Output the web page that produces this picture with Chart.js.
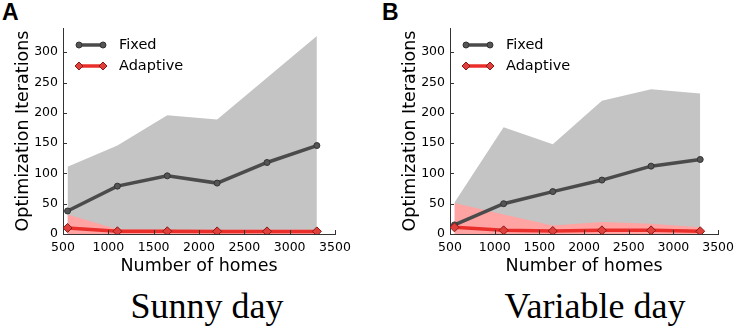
<!DOCTYPE html>
<html>
<head>
<meta charset="utf-8">
<script src="https://cdn.jsdelivr.net/npm/chart.js@4.4.1/dist/chart.umd.min.js"></script>
<style>
  body { margin: 0; background: #fff; width: 740px; height: 328px; position: relative; overflow: hidden; }
  canvas { position: absolute; top: 0; }
  #chartA { left: 0; }
  #chartB { left: 387px; }
  .letter { position: absolute; font-family: 'Liberation Sans', Arial, sans-serif; font-weight: bold; font-size: 23px; line-height: 1; }
  .caption { position: absolute; top: 285px; font-family: 'Liberation Serif', 'Times New Roman', serif; font-size: 36px; line-height: 1.2; text-align: center; width: 300px; }
</style>
</head>
<body>
<div class="letter" style="left:2px; top:1px;">A</div>
<div class="letter" style="left:382px; top:1px;">B</div>
<canvas id="chartA" width="370" height="282"></canvas>
<canvas id="chartB" width="353" height="282"></canvas>
<div class="caption" style="left:57px;">Sunny day</div>
<div class="caption" style="left:445px;">Variable day</div>
<script>
const homes = [550, 1100, 1650, 2200, 2750, 3300];
const xTicks = [500, 1000, 1500, 2000, 2500, 3000, 3500];
const yTicks = [0, 50, 100, 150, 200, 250, 300];

// Sunny day
const sunnyFixed = [38, 79, 96, 84, 118, 146];
const sunnyFixedMax = [111, 146, 196, 189, 258, 327];
const sunnyAdaptive = [10, 4.5, 4.5, 4.3, 4.3, 4.3];
const sunnyAdaptiveMax = [32, 8, 7, 7, 7, 7];

// Variable day
const variableFixed = [15, 50, 70, 89, 112, 123];
const variableFixedMax = [52, 176, 148, 220, 239, 232];
const variableAdaptive = [11, 6, 5, 6, 6, 4.5];
const variableAdaptiveMax = [51, 32, 14, 20, 17, 11];

const FONT = "'DejaVu Sans', sans-serif";
const GRAY_FILL = '#c4c4c4';
const PINK_FILL = '#ffa3a3';
const FIXED_COLOR = '#4b4b4b';
const ADAPT_COLOR = '#ea2f2b';

const toPoints = (vals) => homes.map((h, i) => ({x: h, y: vals[i]}));

// short inward ticks like matplotlib
const innerTicks = {
    id: 'innerTicks',
    afterDraw(chart) {
        const ctx = chart.ctx;
        const xs = chart.scales.x, ys = chart.scales.y;
        ctx.save();
        ctx.strokeStyle = '#333';
        ctx.lineWidth = 1;
        ctx.beginPath();
        xTicks.forEach(v => {
            const px = Math.round(xs.getPixelForValue(v)) + 0.5;
            ctx.moveTo(px, ys.bottom);
            ctx.lineTo(px, ys.bottom - 4);
        });
        yTicks.forEach(v => {
            const py = Math.round(ys.getPixelForValue(v)) + 0.5;
            ctx.moveTo(xs.left, py);
            ctx.lineTo(xs.left + 4, py);
        });
        ctx.stroke();
        ctx.restore();
    }
};

// legend with a marker at each end of the line sample
const lineLegend = {
    id: 'lineLegend',
    afterDatasetsDraw(chart) {
        const ctx = chart.ctx;
        const area = chart.chartArea;
        const items = chart.data.datasets.filter(d => d.inLegend);
        ctx.save();
        items.forEach((d, i) => {
            const y = area.top + 17 + i * 21;
            const x0 = area.left + 16, x1 = area.left + 40;
            ctx.strokeStyle = d.borderColor;
            ctx.lineWidth = 3.5;
            ctx.beginPath();
            ctx.moveTo(x0, y);
            ctx.lineTo(x1, y);
            ctx.stroke();
            [x0, x1].forEach(x => {
                ctx.fillStyle = d.pointBackgroundColor;
                ctx.strokeStyle = d.pointBorderColor;
                ctx.lineWidth = 1;
                ctx.beginPath();
                if (d.pointStyle === 'rectRot') {
                    const r = 4;
                    ctx.moveTo(x, y - r); ctx.lineTo(x + r, y); ctx.lineTo(x, y + r); ctx.lineTo(x - r, y);
                    ctx.closePath();
                } else {
                    ctx.arc(x, y, 3, 0, Math.PI * 2);
                }
                ctx.fill();
                ctx.stroke();
            });
            ctx.fillStyle = '#000';
            ctx.font = '14.5px ' + FONT;
            ctx.textBaseline = 'middle';
            ctx.fillText(d.label, area.left + 56, y);
        });
        ctx.restore();
    }
};

function makePanel(id, fixed, fixedMax, adaptive, adaptiveMax, padRight) {
    return new Chart(document.getElementById(id), {
        type: 'line',
        data: {
            datasets: [
                {
                    label: 'Fixed range',
                    data: toPoints(fixedMax),
                    fill: 'origin',
                    backgroundColor: GRAY_FILL,
                    borderWidth: 0,
                    borderColor: 'rgba(0,0,0,0)',
                    pointRadius: 0,
                    tension: 0,
                    order: 4
                },
                {
                    label: 'Adaptive range',
                    data: toPoints(adaptiveMax),
                    fill: 'origin',
                    backgroundColor: PINK_FILL,
                    borderWidth: 0,
                    borderColor: 'rgba(0,0,0,0)',
                    pointRadius: 0,
                    tension: 0,
                    order: 3
                },
                {
                    label: 'Fixed',
                    inLegend: true,
                    data: toPoints(fixed),
                    borderColor: FIXED_COLOR,
                    borderWidth: 3.5,
                    pointStyle: 'circle',
                    pointRadius: 3,
                    pointBackgroundColor: '#555',
                    pointBorderColor: '#333',
                    pointBorderWidth: 1,
                    fill: false,
                    order: 2
                },
                {
                    label: 'Adaptive',
                    inLegend: true,
                    data: toPoints(adaptive),
                    borderColor: ADAPT_COLOR,
                    borderWidth: 3.5,
                    pointStyle: 'rectRot',
                    pointRadius: 4.5,
                    pointBackgroundColor: '#e0403c',
                    pointBorderColor: '#8a1a18',
                    pointBorderWidth: 1,
                    fill: false,
                    order: 1
                }
            ]
        },
        options: {
            responsive: false,
            animation: false,
            layout: { padding: { top: 28, right: padRight, left: 0, bottom: 0 } },
            plugins: {
                legend: { display: false },
                tooltip: { enabled: false }
            },
            scales: {
                x: {
                    type: 'linear',
                    min: 500,
                    max: 3500,
                    afterBuildTicks: (s) => { s.ticks = xTicks.map(v => ({value: v})); },
                    afterFit: (s) => { s.height = 48; },
                    grid: { display: false, drawTicks: false },
                    border: { display: true, color: '#333', width: 1 },
                    ticks: {
                        color: '#000', padding: 6, maxRotation: 0,
                        font: { family: FONT, size: 12.5 },
                        callback: (v) => String(v)
                    },
                    title: {
                        display: true,
                        text: 'Number of homes',
                        color: '#000',
                        font: { family: FONT, size: 17.5 },
                        padding: { top: 0, bottom: 5 }
                    }
                },
                y: {
                    min: 0,
                    max: 340,
                    afterBuildTicks: (s) => { s.ticks = yTicks.map(v => ({value: v})); },
                    afterFit: (s) => { s.width = 63; },
                    grid: { display: false, drawTicks: false },
                    border: { display: true, color: '#333', width: 1 },
                    ticks: {
                        color: '#000', padding: 5,
                        font: { family: FONT, size: 12.5 },
                        callback: (v) => String(v)
                    },
                    title: {
                        display: true,
                        text: 'Optimization Iterations',
                        color: '#000',
                        font: { family: FONT, size: 17.5 },
                        padding: { top: 13, bottom: 0 }
                    }
                }
            }
        },
        plugins: [innerTicks, lineLegend]
    });
}

makePanel('chartA', sunnyFixed, sunnyFixedMax, sunnyAdaptive, sunnyAdaptiveMax, 35);
makePanel('chartB', variableFixed, variableFixedMax, variableAdaptive, variableAdaptiveMax, 18);
</script>
</body>
</html>
